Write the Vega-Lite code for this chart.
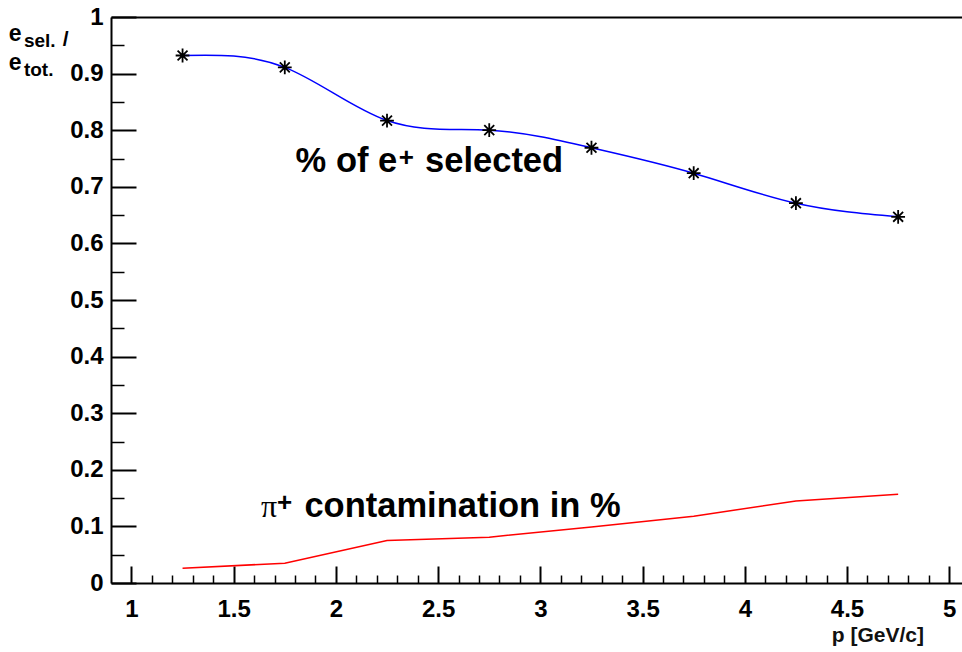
{
  "$schema": "https://vega.github.io/schema/vega-lite/v6.json",
  "width": 851,
  "height": 566,
  "autosize": {"type": "none"},
  "padding": {"left": 111, "top": 17, "right": 0, "bottom": 69},
  "background": "white",
  "config": {
    "view": {"stroke": null},
    "axis": {
      "grid": false,
      "domainColor": "black",
      "tickColor": "black",
      "labelColor": "black",
      "labelFont": "Liberation Sans",
      "labelFontWeight": "bold",
      "labelFontSize": 24,
      "labelFlush": false,
      "labelOverlap": false,
      "title": null
    },
    "text": {"font": "Liberation Sans", "fontWeight": "bold", "color": "black", "align": "left", "baseline": "alphabetic"}
  },
  "datasets": {
    "pts": [
      {"p": 1.25, "eff": 0.932, "contam": 0.026},
      {"p": 1.75, "eff": 0.911, "contam": 0.035},
      {"p": 2.25, "eff": 0.817, "contam": 0.075},
      {"p": 2.75, "eff": 0.800, "contam": 0.081},
      {"p": 3.25, "eff": 0.769, "contam": 0.099},
      {"p": 3.75, "eff": 0.724, "contam": 0.118},
      {"p": 4.25, "eff": 0.671, "contam": 0.145},
      {"p": 4.75, "eff": 0.647, "contam": 0.157}
    ],
    "one": [{}]
  },
  "data": {"name": "pts"},
  "layer": [
    {
      "mark": {"type": "line", "color": "#ff0000", "strokeWidth": 1.5},
      "encoding": {
        "x": {"field": "p", "type": "quantitative", "scale": {"domain": [0.9, 5.0623], "nice": false, "zero": false},
          "axis": {"orient": "bottom", "values": [1, 1.5, 2, 2.5, 3, 3.5, 4, 4.5, 5], "format": "~g", "tickSize": -17, "tickWidth": 2, "domainWidth": 2, "labelPadding": 31}},
        "y": {"field": "contam", "type": "quantitative", "scale": {"domain": [0, 1], "nice": false, "zero": false},
          "axis": {"orient": "left", "values": [0, 0.1, 0.2, 0.3, 0.4, 0.5, 0.6, 0.7, 0.8, 0.9, 1], "format": "~g", "tickSize": -25, "tickWidth": 2, "domainWidth": 2, "labelPadding": 33}}
      }
    },
    {
      "mark": {"type": "line", "color": "#0000ff", "strokeWidth": 1.5, "interpolate": "natural"},
      "encoding": {
        "x": {"field": "p", "type": "quantitative", "scale": {"domain": [0.9, 5.0623], "nice": false, "zero": false},
          "axis": {"orient": "bottom", "values": [1.1, 1.2, 1.3, 1.4, 1.6, 1.7, 1.8, 1.9, 2.1, 2.2, 2.3, 2.4, 2.6, 2.7, 2.8, 2.9, 3.1, 3.2, 3.3, 3.4, 3.6, 3.7, 3.8, 3.9, 4.1, 4.2, 4.3, 4.4, 4.6, 4.7, 4.8, 4.9], "tickSize": -8, "tickWidth": 1.5, "labels": false, "domain": false}},
        "y": {"field": "eff", "type": "quantitative", "scale": {"domain": [0, 1], "nice": false, "zero": false},
          "axis": {"orient": "left", "values": [0.05, 0.15, 0.25, 0.35, 0.45, 0.55, 0.65, 0.75, 0.85, 0.95], "tickSize": -13, "tickWidth": 1.5, "labels": false, "domain": false}}
      }
    },
    {
      "mark": {"type": "point", "shape": "M-1,0L1,0M0,-1L0,1M-0.72,-0.72L0.72,0.72M-0.72,0.72L0.72,-0.72", "filled": false, "stroke": "black", "strokeWidth": 1.8, "size": 190, "opacity": 1},
      "encoding": {
        "x": {"field": "p", "type": "quantitative", "scale": {"domain": [0.9, 5.0623], "nice": false, "zero": false},
          "axis": {"orient": "top", "domain": true, "domainWidth": 2, "ticks": false, "labels": false}},
        "y": {"field": "eff", "type": "quantitative", "scale": {"domain": [0, 1], "nice": false, "zero": false}, "axis": null}
      }
    },
    {
      "data": {"name": "one"},
      "layer": [
        {"mark": {"type": "text", "text": "% of e", "fontSize": 34.5},
          "encoding": {"x": {"datum": 1.803, "type": "quantitative", "axis": null}, "y": {"datum": 0.7267, "type": "quantitative", "axis": null}}},
        {"mark": {"type": "text", "text": "+", "fontSize": 26},
          "encoding": {"x": {"datum": 2.308, "type": "quantitative", "axis": null}, "y": {"datum": 0.7367, "type": "quantitative", "axis": null}}},
        {"mark": {"type": "text", "text": "selected", "fontSize": 34.5},
          "encoding": {"x": {"datum": 2.436, "type": "quantitative", "axis": null}, "y": {"datum": 0.7267, "type": "quantitative", "axis": null}}},
        {"mark": {"type": "text", "text": "π", "fontSize": 32, "font": "Liberation Serif", "fontWeight": "normal"},
          "encoding": {"x": {"datum": 1.634, "type": "quantitative", "axis": null}, "y": {"datum": 0.1171, "type": "quantitative", "axis": null}}},
        {"mark": {"type": "text", "text": "+", "fontSize": 26},
          "encoding": {"x": {"datum": 1.712, "type": "quantitative", "axis": null}, "y": {"datum": 0.1272, "type": "quantitative", "axis": null}}},
        {"mark": {"type": "text", "text": "contamination in %", "fontSize": 34.5},
          "encoding": {"x": {"datum": 1.846, "type": "quantitative", "axis": null}, "y": {"datum": 0.1171, "type": "quantitative", "axis": null}}},
        {"mark": {"type": "text", "text": "e", "fontSize": 23},
          "encoding": {"x": {"datum": 0.3997, "type": "quantitative", "axis": null}, "y": {"datum": 0.9577, "type": "quantitative", "axis": null}}},
        {"mark": {"type": "text", "text": "sel.", "fontSize": 19},
          "encoding": {"x": {"datum": 0.474, "type": "quantitative", "axis": null}, "y": {"datum": 0.947, "type": "quantitative", "axis": null}}},
        {"mark": {"type": "text", "text": "/", "fontSize": 21},
          "encoding": {"x": {"datum": 0.6639, "type": "quantitative", "axis": null}, "y": {"datum": 0.949, "type": "quantitative", "axis": null}}},
        {"mark": {"type": "text", "text": "e", "fontSize": 23},
          "encoding": {"x": {"datum": 0.3997, "type": "quantitative", "axis": null}, "y": {"datum": 0.9064, "type": "quantitative", "axis": null}}},
        {"mark": {"type": "text", "text": "tot.", "fontSize": 19},
          "encoding": {"x": {"datum": 0.474, "type": "quantitative", "axis": null}, "y": {"datum": 0.8958, "type": "quantitative", "axis": null}}},
        {"mark": {"type": "text", "text": "p [GeV/c]", "fontSize": 21, "align": "right", "color": "#111111"},
          "encoding": {"x": {"datum": 4.876, "type": "quantitative", "axis": null}, "y": {"datum": -0.1037, "type": "quantitative", "axis": null}}}
      ]
    }
  ],
  "resolve": {"scale": {"x": "shared", "y": "shared"}, "axis": {"x": "independent", "y": "independent"}}
}
